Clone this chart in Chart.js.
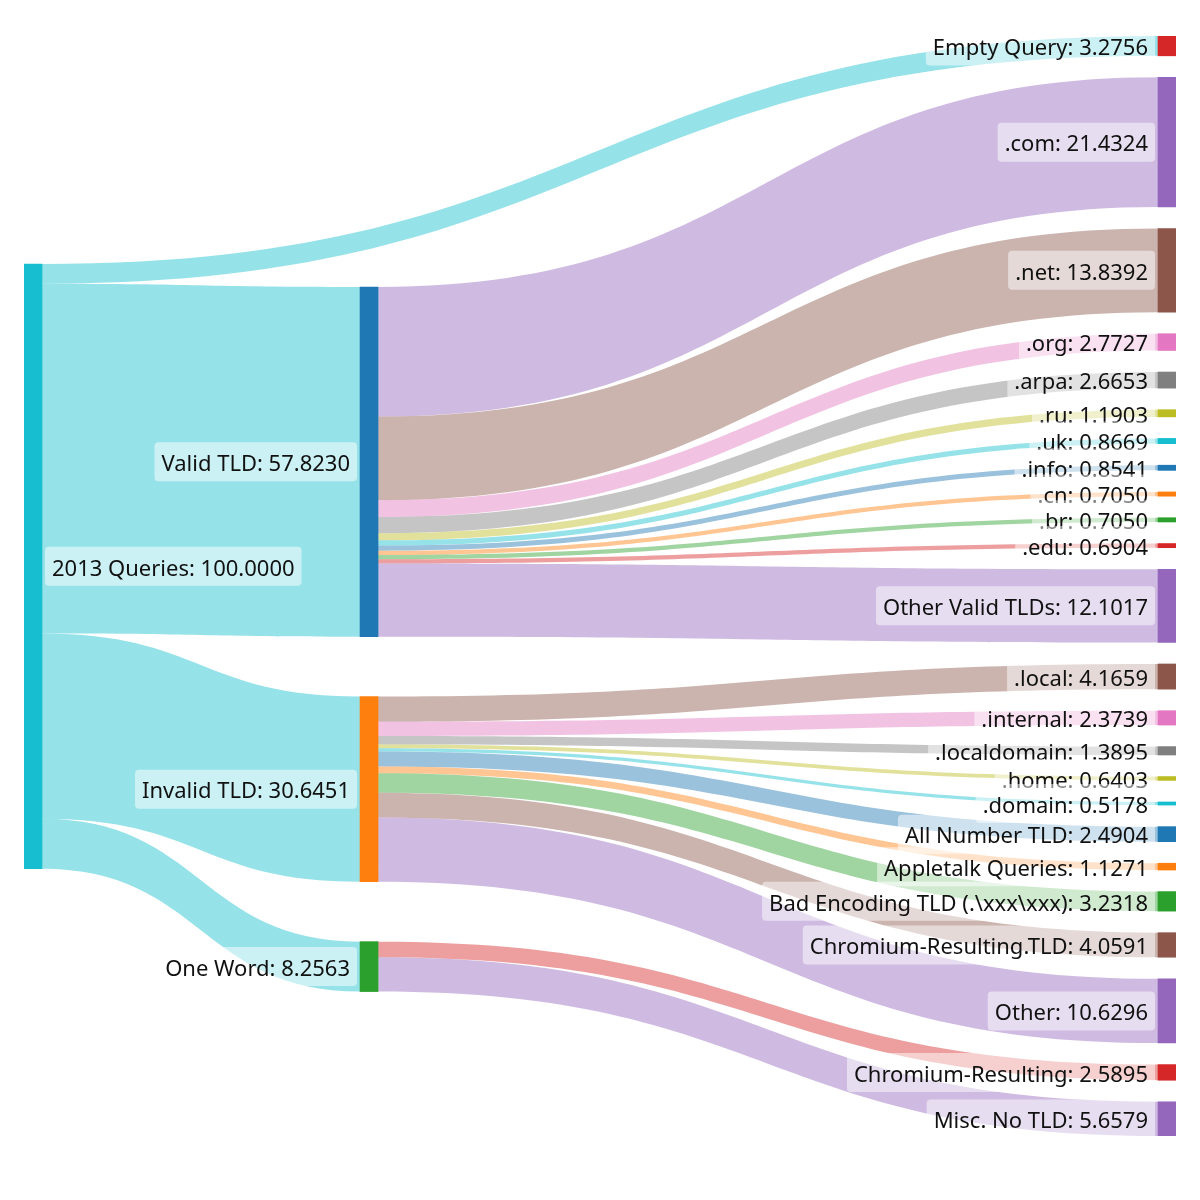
<!DOCTYPE html>
<html><head><meta charset="utf-8">
<script src="https://cdn.jsdelivr.net/npm/chart.js@4.4.1/dist/chart.umd.min.js"></script>
<style>html,body{margin:0;padding:0;background:#fff}#wrap{width:1200px;height:1200px;position:relative}</style>
</head><body><div id="wrap"><canvas id="c"></canvas></div>
<script>
// ---------- DATA ----------
const nodeNames = ['2013 Queries','Valid TLD','Invalid TLD','One Word','Empty Query',
  '.com','.net','.org','.arpa','.ru','.uk','.info','.cn','.br','.edu','Other Valid TLDs',
  '.local','.internal','.localdomain','.home','.domain','All Number TLD','Appletalk Queries',
  'Bad Encoding TLD (.\\xxx\\xxx)','Chromium-Resulting.TLD','Other','Chromium-Resulting','Misc. No TLD'];
const linkSource = [0,0,0,0, 1,1,1,1,1,1,1,1,1,1,1, 2,2,2,2,2,2,2,2,2,2, 3,3];
const linkTarget = [4,1,2,3, 5,6,7,8,9,10,11,12,13,14,15, 16,17,18,19,20,21,22,23,24,25, 26,27];
const linkValue = [3.2756,57.8230,30.6451,8.2563,
  21.4324,13.8392,2.7727,2.6653,1.1903,0.8669,0.8541,0.7050,0.7050,0.6904,12.1017,
  4.1659,2.3739,1.3895,0.6403,0.5178,2.4904,1.1271,3.2318,4.0591,10.6296,
  2.5895,5.6579];
const nodeColors = ['#17becf','#1f77b4','#ff7f0e','#2ca02c','#d62728',
  '#9467bd','#8c564b','#e377c2','#7f7f7f','#bcbd22','#17becf','#1f77b4','#ff7f0e','#2ca02c','#d62728','#9467bd',
  '#8c564b','#e377c2','#7f7f7f','#bcbd22','#17becf','#1f77b4','#ff7f0e','#2ca02c','#8c564b','#9467bd','#d62728','#9467bd'];
const linkColors = ['#17becf','#17becf','#17becf','#17becf',
  '#9467bd','#8c564b','#e377c2','#7f7f7f','#bcbd22','#17becf','#1f77b4','#ff7f0e','#2ca02c','#d62728','#9467bd',
  '#8c564b','#e377c2','#7f7f7f','#bcbd22','#17becf','#1f77b4','#ff7f0e','#2ca02c','#8c564b','#9467bd',
  '#d62728','#9467bd'];

// ---------- LAYOUT / STYLE ----------
const NODE_W = 18;
const columnX = [0.0078125, 0.2995, 0.9921875];   // node centre, fraction of plot width
const columnTop = [37.71, 41.51, 0];               // column start, in value units
const columnPad = [0, 9.9, 3.563];                 // gap between nodes, in value units
const LINK_ALPHA = 0.45;
const FONT = '22px "Noto Sans", sans-serif';

// ---------- SANKEY GEOMETRY (value units) ----------
const N = nodeNames.length;
const inSum = Array(N).fill(0), outSum = Array(N).fill(0);
linkValue.forEach((v,i)=>{ outSum[linkSource[i]] += v; inSum[linkTarget[i]] += v; });
const nodeValue = nodeNames.map((_,i)=>Math.max(inSum[i], outSum[i]));
const depth = Array(N).fill(0);
let changed = true;
while (changed) { changed = false;
  linkSource.forEach((s,i)=>{ const t = linkTarget[i]; if (depth[t] < depth[s]+1) { depth[t] = depth[s]+1; changed = true; } }); }
const maxDepth = Math.max(...depth);
const column = nodeNames.map((_,i)=> outSum[i] === 0 ? maxDepth : depth[i]);
const nodeTop = Array(N), nodeBot = Array(N);
let yMax = 0;
for (let c = 0; c <= maxDepth; c++) {
  let y = columnTop[c];
  nodeNames.forEach((_,i)=>{ if (column[i] === c) { nodeTop[i] = y; nodeBot[i] = y + nodeValue[i]; y = nodeBot[i] + columnPad[c]; yMax = Math.max(yMax, nodeBot[i]); } });
}
const linkSy = Array(linkValue.length), linkTy = Array(linkValue.length);
for (let i = 0; i < N; i++) {
  const outs = linkValue.map((_,k)=>k).filter(k=>linkSource[k]===i).sort((a,b)=>nodeTop[linkTarget[a]]-nodeTop[linkTarget[b]]);
  let y = nodeTop[i]; outs.forEach(k=>{ linkSy[k] = y; y += linkValue[k]; });
  const ins = linkValue.map((_,k)=>k).filter(k=>linkTarget[k]===i).sort((a,b)=>nodeTop[linkSource[a]]-nodeTop[linkSource[b]]);
  y = nodeTop[i]; ins.forEach(k=>{ linkTy[k] = y; y += linkValue[k]; });
}
function rgba(hex, a) { const v = parseInt(hex.slice(1),16); return `rgba(${v>>16},${(v>>8)&255},${v&255},${a})`; }

const sankeyPlugin = {
  id: 'sankey',
  beforeDatasetsDraw(chart) {
    const {ctx, scales:{x, y}} = chart;
    ctx.save();
    linkValue.forEach((v,k)=>{
      const s = linkSource[k], t = linkTarget[k];
      const x0 = x.getPixelForValue(columnX[column[s]]) + NODE_W/2;
      const x1 = x.getPixelForValue(columnX[column[t]]) - NODE_W/2;
      const a0 = y.getPixelForValue(linkSy[k]), b0 = y.getPixelForValue(linkSy[k]+v);
      const a1 = y.getPixelForValue(linkTy[k]), b1 = y.getPixelForValue(linkTy[k]+v);
      const xm = (x0 + x1) / 2;
      ctx.beginPath();
      ctx.moveTo(x0, a0);
      ctx.bezierCurveTo(xm, a0, xm, a1, x1, a1);
      ctx.lineTo(x1, b1);
      ctx.bezierCurveTo(xm, b1, xm, b0, x0, b0);
      ctx.closePath();
      ctx.fillStyle = rgba(linkColors[k], LINK_ALPHA);
      ctx.fill();
    });
    ctx.restore();
  },
  afterDatasetsDraw(chart) {
    const {ctx, scales:{x, y}} = chart;
    ctx.save();
    ctx.font = FONT;
    ctx.textBaseline = 'middle';
    nodeNames.forEach((name,i)=>{
      const txt = name + ': ' + nodeValue[i].toFixed(4);
      const w = ctx.measureText(txt).width;
      const cx = x.getPixelForValue(columnX[column[i]]);
      const yc = (y.getPixelForValue(nodeTop[i]) + y.getPixelForValue(nodeBot[i])) / 2;
      const padX = 7, h = 39;
      let bx;
      if (column[i] === 0) bx = cx + NODE_W/2 + 3;
      else bx = cx - NODE_W/2 - 3 - (w + 2*padX);
      ctx.fillStyle = 'rgba(255,255,255,0.5)';
      ctx.beginPath();
      ctx.roundRect(bx, yc - h/2, w + 2*padX, h, 4);
      ctx.fill();
      ctx.fillStyle = '#111';
      ctx.textAlign = 'left';
      ctx.fillText(txt, bx + padX, yc + 3);
    });
    ctx.restore();
  }
};

new Chart(document.getElementById('c'), {
  type: 'bar',
  data: {
    datasets: [{
      data: nodeNames.map((_,i)=>({x: columnX[column[i]], y: [nodeTop[i], nodeBot[i]]})),
      backgroundColor: nodeColors,
      barThickness: NODE_W,
      borderWidth: 0,
      borderSkipped: false
    }]
  },
  options: {
    responsive: true,
    maintainAspectRatio: false,
    animation: false,
    layout: { padding: { left: 24, right: 24, top: 36, bottom: 64 } },
    plugins: { legend: { display: false }, tooltip: { enabled: false } },
    scales: {
      x: { type: 'linear', min: 0, max: 1, display: false, offset: false, grid: { offset: false } },
      y: { type: 'linear', min: 0, max: yMax, reverse: true, display: false }
    }
  },
  plugins: [sankeyPlugin]
});
</script>
</body></html>
